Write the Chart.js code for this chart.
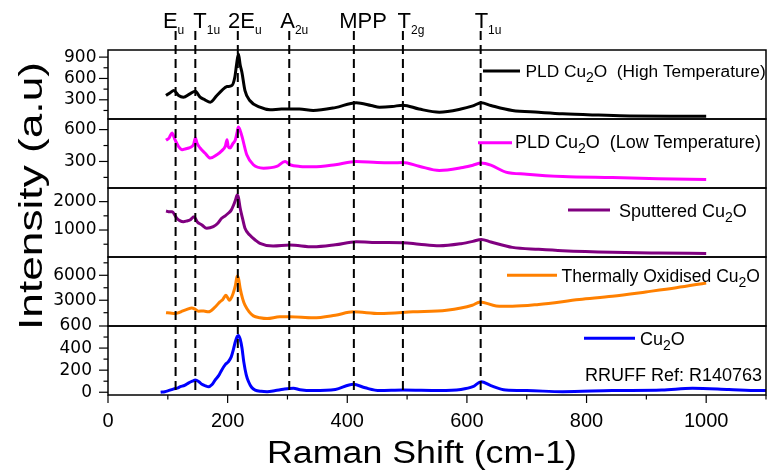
<!DOCTYPE html>
<html>
<head>
<meta charset="utf-8">
<script src="https://cdn.jsdelivr.net/npm/chart.js@4/dist/chart.umd.min.js"></script>
<style>
html,body{margin:0;padding:0;background:#fff;}
#wrap{width:767px;height:470px;position:relative;}
</style>
</head>
<body>
<div id="wrap"><canvas id="c" width="767" height="470"></canvas></div>
<script>
// ---------------- DATA ----------------
const xTickValues = [0, 200, 400, 600, 800, 1000];
const xMinorTicks = [100, 300, 500, 700, 900, 1100];
const xRange = [0, 1100];
const xTitle = 'Raman Shift (cm-1)';
const yTitle = 'Intensity (a.u)';

// panels, top to bottom
const seriesNames = [
  'PLD Cu\u2082O  (High Temperature)',
  'PLD Cu\u2082O  (Low Temperature)',
  'Sputtered Cu\u2082O',
  'Thermally Oxidised Cu\u2082O',
  'Cu\u2082O'
];
const seriesColors = ['#000000', '#ff00ff', '#800080', '#ff8000', '#0000ff'];
const panelRanges = [[30, 1000], [50, 700], [50, 2480], [-100, 8200], [-25, 600]];
const panelTicks = [[300, 600, 900], [300, 600], [1000, 2000], [3000, 6000], [0, 200, 400, 600]];
const panelMinorTicks = [[150, 450, 750], [150, 450], [500, 1500], [1500, 4500, 7500], [100, 300, 500]];

// PLD Cu2O (High Temperature)
const hiX = [97, 104, 110, 118, 126, 137, 146, 154, 162, 171, 182, 190, 199, 207, 212, 215, 218, 221, 224, 229, 237, 254, 271, 290, 320, 343, 380, 415, 440, 454, 475, 493, 520, 554, 590, 610, 624, 640, 676, 720, 760, 820, 872, 940, 1000];
const hiY = [360, 400, 430, 360, 336, 384, 420, 336, 300, 266, 360, 430, 486, 500, 617, 800, 945, 790, 680, 430, 290, 196, 160, 170, 170, 150, 190, 258, 220, 195, 205, 225, 170, 126, 170, 215, 258, 220, 150, 125, 104, 85, 72, 70, 70];

// PLD Cu2O (Low Temperature)
const loX = [97, 102, 107, 112, 118, 124, 130, 135, 140, 143, 146, 149, 154, 162, 171, 182, 190, 196, 199, 201, 204, 209, 213, 216, 218, 221, 224, 232, 243, 260, 282, 296, 304, 321, 343, 380, 415, 450, 475, 493, 520, 554, 590, 610, 624, 640, 665, 700, 760, 843, 920, 1000];
const loY = [500, 520, 569, 505, 440, 411, 420, 427, 440, 458, 521, 470, 427, 380, 332, 363, 400, 442, 505, 440, 427, 470, 505, 580, 625, 590, 537, 363, 269, 237, 253, 300, 269, 253, 250, 270, 300, 290, 288, 290, 255, 215, 240, 265, 285, 265, 200, 180, 158, 148, 138, 130];

// Sputtered Cu2O
const spX = [97, 103, 107, 115, 120, 126, 132, 137, 144, 149, 157, 165, 176, 184, 190, 196, 201, 206, 210, 213, 216, 218, 221, 225, 229, 237, 246, 254, 276, 304, 343, 380, 415, 454, 493, 520, 554, 590, 610, 624, 640, 676, 720, 760, 843, 920, 1000];
const spY = [1670, 1640, 1646, 1413, 1330, 1293, 1320, 1353, 1470, 1293, 1180, 1060, 1117, 1250, 1413, 1500, 1590, 1700, 1883, 2050, 2235, 2150, 1766, 1400, 1060, 823, 650, 530, 435, 470, 410, 480, 587, 560, 552, 500, 446, 520, 600, 670, 580, 389, 320, 270, 213, 190, 177];

// Thermally Oxidised Cu2O
const thX = [97, 104, 112, 118, 124, 132, 140, 146, 151, 160, 168, 178, 187, 192, 197, 200, 203, 207, 210, 213, 216, 218, 221, 225, 229, 236, 243, 254, 266, 287, 304, 343, 380, 410, 454, 510, 566, 609, 622, 649, 676, 720, 788, 843, 899, 950, 1000];
const thY = [1500, 1450, 1400, 1500, 1680, 1900, 2080, 1900, 1680, 1700, 1600, 2100, 2800, 3100, 3600, 3300, 3000, 3400, 4000, 4800, 5920, 5700, 4400, 3200, 2400, 1600, 1120, 900, 800, 1000, 1000, 880, 1200, 1600, 1400, 1600, 1800, 2400, 2800, 2320, 2280, 2500, 3080, 3480, 4000, 4500, 5080];

// Cu2O (RRUFF R140763)
const cuX = [88, 95, 100, 110, 116, 121, 128, 135, 141, 146, 152, 157, 163, 168, 174, 179, 185, 190, 196, 201, 206, 210, 213, 216, 218, 221, 224, 227, 231, 235, 240, 246, 256, 266, 280, 293, 310, 321, 343, 380, 410, 430, 454, 493, 554, 590, 610, 624, 640, 665, 700, 760, 843, 926, 977, 1038, 1088, 1100];
const cuY = [0, 5, 12, 30, 38, 50, 62, 85, 100, 110, 95, 72, 58, 50, 70, 110, 150, 200, 250, 275, 320, 395, 460, 505, 515, 480, 400, 275, 160, 95, 45, 20, 8, 5, 15, 27, 36, 23, 15, 25, 72, 40, 15, 20, 15, 25, 50, 95, 60, 20, 15, 5, 15, 20, 36, 25, 15, 15];

// phonon mode marker lines
const modePositions = [113, 146, 217, 303, 411, 493, 623];
const modeNames = ['E', 'T', '2E', 'A', 'MPP', 'T', 'T'];
const modeSubs = ['u', '1u', 'u', '2u', '', '2g', '1u'];

const refNote = 'RRUFF Ref: R140763';

// ---------------- LAYOUT / STYLE ----------------
const panelIds = ['p0', 'p1', 'p2', 'p3', 'p4'];
const seriesX = [hiX, loX, spX, thX, cuX];
const seriesY = [hiY, loY, spY, thY, cuY];
const modeLabelDx = [-12.7, -2, -9.7, -9, -14.7, -5.3, -6];
// legend layout: line x0,x1, text x, line dy, text baseline dy (relative to panel top), font size
const legendLayout = [
  {x0: 483, x1: 520, tx: 525.5, ly: 21, ty: 27.3, fs: 17.3},
  {x0: 478, x1: 512, tx: 515, ly: 23.7, ty: 28.5, fs: 18},
  {x0: 568, x1: 610, tx: 619, ly: 22, ty: 28.7, fs: 18},
  {x0: 507, x1: 557, tx: 561.5, ly: 18.3, ty: 25.3, fs: 17.5},
  {x0: 584, x1: 635, tx: 640, ly: 12.3, ty: 19, fs: 18}
];
const SANS = '"Liberation Sans", Arial, sans-serif';
const WIDE = '"DejaVu Sans", sans-serif';

const toPts = (xs, ys) => xs.map((x, i) => ({x: x, y: ys[i]}));

const datasets = panelIds.map((id, i) => ({
  label: seriesNames[i],
  data: toPts(seriesX[i], seriesY[i]),
  xAxisID: 'x',
  yAxisID: id,
  borderColor: seriesColors[i],
  backgroundColor: seriesColors[i],
  borderWidth: 3,
  pointRadius: 0,
  cubicInterpolationMode: 'monotone',
  fill: false
}));

const scales = {
  x: {
    type: 'linear', position: 'bottom', min: xRange[0], max: xRange[1],
    grid: {display: false, drawTicks: false},
    border: {display: false},
    ticks: {font: {family: SANS, size: 20}, color: '#000', padding: 14, maxRotation: 0, autoSkip: false,
            callback: v => String(v)},
    afterBuildTicks: axis => { axis.ticks = xTickValues.map(v => ({value: v})); },
    afterFit: axis => { axis.height = 75; },
    title: {display: false, text: xTitle}
  }
};
// define bottom panel first so that stacking puts p0 on top
for (let i = panelIds.length - 1; i >= 0; i--) {
  scales[panelIds[i]] = {
    type: 'linear', position: 'left', stack: 'panels', stackWeight: 1,
    min: panelRanges[i][0], max: panelRanges[i][1],
    grid: {display: false, drawTicks: false},
    border: {display: false},
    ticks: {font: {family: WIDE, size: 17}, color: '#000', padding: i === 4 ? 16 : 11.5, autoSkip: false,
            callback: v => String(v)},
    afterBuildTicks: axis => { axis.ticks = panelTicks[i].map(v => ({value: v})); },
    afterFit: axis => { axis.width = 108; },
    title: {display: false, text: i === 2 ? yTitle : ''}
  };
}

function drawChem(ctx, text, x, y, size) {
  // renders "Cu₂O" with a lowered smaller 2
  const parts = text.split('\u2082');
  ctx.font = size + 'px ' + SANS;
  ctx.fillText(parts[0], x, y);
  let cx = x + ctx.measureText(parts[0]).width;
  if (parts.length > 1) {
    ctx.font = Math.round(size * 0.8) + 'px ' + SANS;
    ctx.fillText('2', cx, y + 5);
    cx += ctx.measureText('2').width;
    ctx.font = size + 'px ' + SANS;
    ctx.fillText(parts[1], cx, y);
  }
}

function stretchedText(ctx, text, cx, cy, size, targetWidth, rot) {
  ctx.save();
  ctx.font = size + 'px ' + SANS;
  const w = ctx.measureText(text).width;
  ctx.translate(cx, cy);
  ctx.rotate(rot);
  ctx.scale(targetWidth / w, 1);
  ctx.textAlign = 'center';
  ctx.textBaseline = 'alphabetic';
  ctx.fillStyle = '#000';
  ctx.fillText(text, 0, 0);
  ctx.restore();
}

const decor = {
  id: 'decor',
  afterDatasetsDraw(chart) {
    const {ctx, chartArea: ca, scales: sc} = chart;
    const xs = sc.x;
    ctx.save();
    // dashed mode lines
    ctx.strokeStyle = '#000';
    ctx.lineWidth = 2;
    ctx.setLineDash([9, 5]);
    modePositions.forEach(m => {
      const px = xs.getPixelForValue(m);
      ctx.beginPath();
      ctx.moveTo(px, ca.top - 19);
      ctx.lineTo(px, ca.bottom - 5);
      ctx.stroke();
    });
    ctx.setLineDash([]);
    // mode labels
    ctx.fillStyle = '#000';
    ctx.textBaseline = 'alphabetic';
    ctx.textAlign = 'left';
    modePositions.forEach((m, k) => {
      const px = xs.getPixelForValue(m) + modeLabelDx[k];
      ctx.font = '22px ' + SANS;
      ctx.fillText(modeNames[k], px, ca.top - 22.5);
      const w = ctx.measureText(modeNames[k]).width;
      if (modeSubs[k]) {
        ctx.font = '12px ' + SANS;
        ctx.fillText(modeSubs[k], px + w, ca.top - 16.5);
      }
    });
    // panel frames and y ticks
    ctx.strokeStyle = '#000';
    panelIds.forEach((id, i) => {
      const s = sc[id];
      ctx.lineWidth = 1.5;
      ctx.strokeRect(ca.left, s.top, ca.right - ca.left, s.bottom - s.top);
      ctx.lineWidth = 1.2;
      panelTicks[i].forEach(v => {
        const py = s.getPixelForValue(v);
        ctx.beginPath(); ctx.moveTo(ca.left - 9, py); ctx.lineTo(ca.left, py); ctx.stroke();
      });
      panelMinorTicks[i].forEach(v => {
        const py = s.getPixelForValue(v);
        ctx.beginPath(); ctx.moveTo(ca.left - 4.5, py); ctx.lineTo(ca.left, py); ctx.stroke();
      });
      // legend entry
      const L = legendLayout[i];
      ctx.strokeStyle = seriesColors[i];
      ctx.lineWidth = 3;
      ctx.beginPath(); ctx.moveTo(L.x0, s.top + L.ly); ctx.lineTo(L.x1, s.top + L.ly); ctx.stroke();
      ctx.strokeStyle = '#000';
      ctx.fillStyle = '#000';
      drawChem(ctx, seriesNames[i], L.tx, s.top + L.ty, L.fs);
      if (i === 4) {
        ctx.font = '18px ' + SANS;
        ctx.fillText(refNote, 585, s.top + 54.7);
      }
    });
    // x ticks
    ctx.lineWidth = 1.2;
    xTickValues.forEach(v => {
      const px = xs.getPixelForValue(v);
      ctx.beginPath(); ctx.moveTo(px, ca.bottom); ctx.lineTo(px, ca.bottom + 8); ctx.stroke();
    });
    xMinorTicks.forEach(v => {
      const px = xs.getPixelForValue(v);
      ctx.beginPath(); ctx.moveTo(px, ca.bottom); ctx.lineTo(px, ca.bottom + 4.5); ctx.stroke();
    });
    // axis titles
    stretchedText(ctx, xTitle, 422, 463, 31, 310, 0);
    stretchedText(ctx, yTitle, 42, 196, 33.5, 268, -Math.PI / 2);
    ctx.restore();
  }
};

new Chart(document.getElementById('c'), {
  type: 'line',
  data: {datasets: datasets},
  options: {
    responsive: false,
    animation: false,
    devicePixelRatio: 1,
    parsing: true,
    layout: {padding: {top: 50, right: 1, bottom: 0, left: 0}},
    plugins: {legend: {display: false}, tooltip: {enabled: false}},
    scales: scales
  },
  plugins: [decor]
});
</script>
</body>
</html>
